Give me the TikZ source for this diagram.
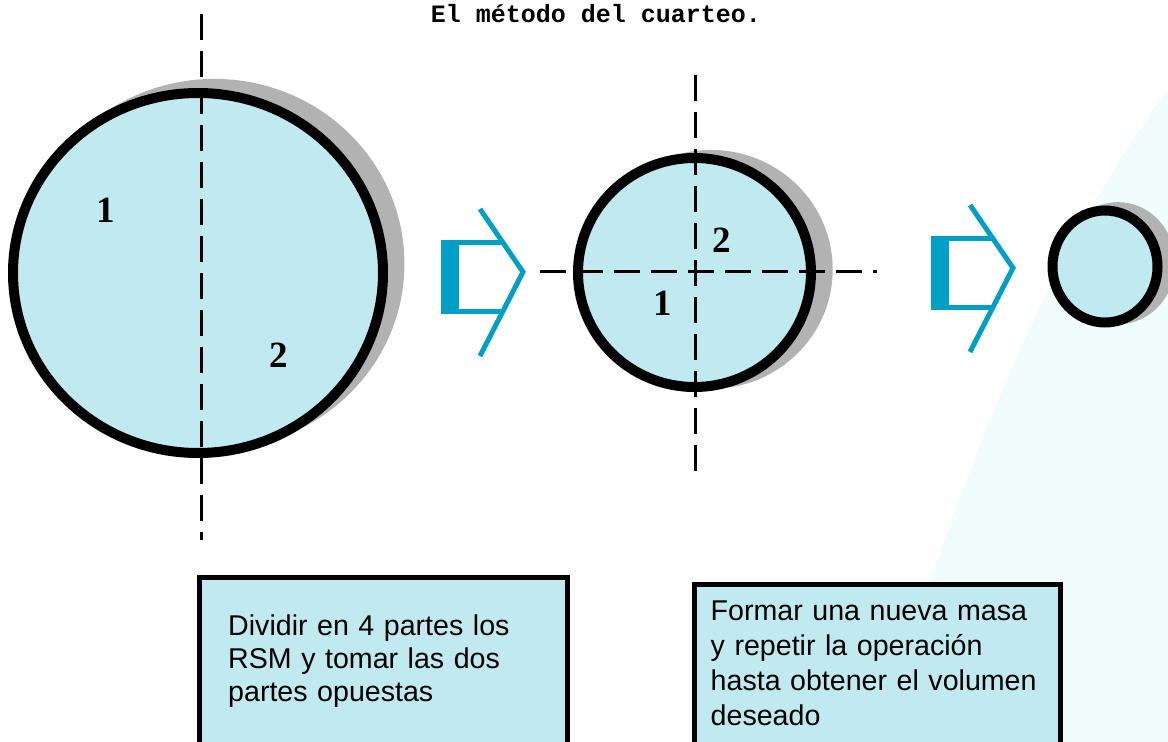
\documentclass[tikz,border=0pt]{standalone}
\usepackage{fontspec}
\usepackage{xcolor}
\usepackage{tikz}
\usetikzlibrary{shapes.geometric}
\usetikzlibrary{shadows}
\usetikzlibrary{positioning}

\newfontfamily\boxfont{Liberation Sans}
\newfontfamily\digitfont{Liberation Serif}
\newfontfamily\titlefont{Liberation Mono}

\definecolor{samplefill}{RGB}{193,233,240}
\definecolor{arrowcyan}{RGB}{0,160,198}
\definecolor{shadowgray}{RGB}{178,178,178}
\definecolor{watermark}{RGB}{241,252,253}

\tikzset{
  sample/.style={ellipse,draw=black,line width=10pt,fill=samplefill,inner sep=0pt},
  cutline/.style={line width=3pt,dash pattern=on 26pt off 11pt},
  quarter/.style={font=\digitfont\bfseries\fontsize{37}{37}\selectfont,anchor=base,inner sep=0pt},
  headline/.style={font=\titlefont\bfseries\fontsize{25}{25}\selectfont,anchor=base,inner sep=0pt},
  notebox/.style={draw=black,line width=5pt,fill=samplefill,anchor=north west,inner sep=0pt},
  notetext/.style={anchor=north west,inner sep=0pt,align=left,text width=340pt},
  stepmark/.style={draw=arrowcyan,line width=5pt,miter limit=20}
}

\begin{document}
\begin{tikzpicture}[x=1pt,y=-1pt]
  \useasboundingbox (0,0) rectangle (1168,742);
  \fill[watermark] (1168,90) .. controls (1070,220) and (970,430) .. (880,742) -- (1168,742) -- cycle;

  \node[headline] (title) at (596,22) {El método del cuarteo.};

  \node[sample,minimum width=370pt,minimum height=360pt,
    drop shadow={shadow xshift=16pt,shadow yshift=9pt,shadow scale=1.027,fill=shadowgray,opacity=1}] (big) at (198,273) {};
  \node[sample,minimum width=233pt,minimum height=229pt,
    drop shadow={shadow xshift=16pt,shadow yshift=3pt,shadow scale=1.043,fill=shadowgray,opacity=1}] (mid) at (694.5,272.5) {};
  \node[sample,minimum width=105pt,minimum height=112pt,
    drop shadow={shadow xshift=12pt,shadow yshift=3pt,shadow scale=1.09,fill=shadowgray,opacity=1}] (small) at (1105,266.5) {};

  \coordinate (bigtop) at (201,14);
  \coordinate (bigbot) at (201,540);
  \coordinate (midtop) at (695,75);
  \coordinate (midbot) at (695,480);
  \coordinate (midleft) at (540,271);
  \coordinate (midright) at (877,271);
  \draw[cutline] (bigtop) -- (bigbot);
  \draw[cutline] (midtop) -- (midbot);
  \draw[cutline] (midleft) -- (midright);

  \node[quarter] (big1) at (105.5,222) {1};
  \node[quarter] (big2) at (278.5,367) {2};
  \node[quarter] (mid2) at (722,252) {2};
  \node[quarter] (mid1) at (663,315) {1};

  \foreach \dx/\dy in {0/0,490/-4}{
    \begin{scope}[shift={(\dx,\dy)}]
      \fill[arrowcyan] (441,240) rectangle (459,314);
      \draw[stepmark] (458,242.5) -- (502,242.5);
      \draw[stepmark] (458,311.5) -- (502,311.5);
      \draw[stepmark] (480,209) -- (523,272) -- (480,356);
    \end{scope}
  }

  \node[notebox,minimum width=368pt,minimum height=200pt] (box1) at (197,575) {};
  \node[notetext,font=\boxfont\fontsize{28.6}{33}\selectfont] (text1) at (228,615)
    {Dividir en 4 partes los\\RSM y tomar las dos\\partes opuestas};

  \node[notebox,minimum width=365.5pt,minimum height=200pt] (box2) at (692,582) {};
  \node[notetext,font=\boxfont\fontsize{28.6}{35}\selectfont] (text2) at (710.5,601)
    {Formar una nueva masa\\y repetir la operación\\hasta obtener el volumen\\deseado};
\end{tikzpicture}
\end{document}
